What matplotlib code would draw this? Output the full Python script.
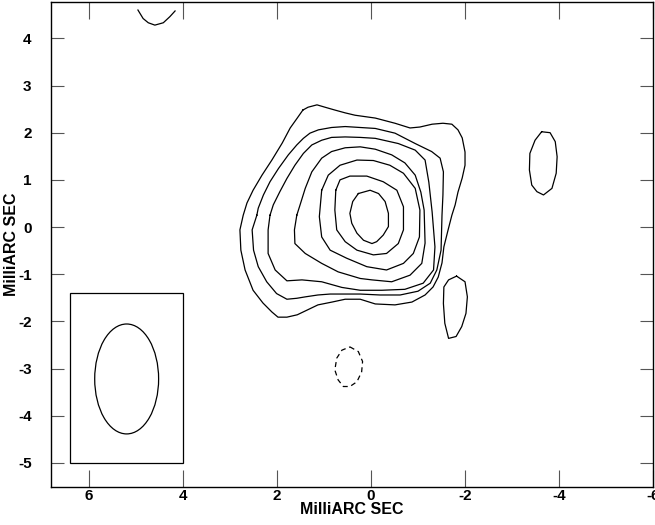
import matplotlib.pyplot as plt
from matplotlib.patches import Ellipse, Rectangle

plt.rcParams['font.family'] = ['Liberation Sans', 'DejaVu Sans']
plt.rcParams['axes.unicode_minus'] = False

#%%
# Contour outlines traced from the map, in MilliARC SEC (x = RA offset, y = Dec offset)
contour_1 = [(1.45, 2.48), (1.34, 2.54), (1.15, 2.59), (0.98, 2.54), (0.77, 2.48), (0.55, 2.42),
             (0.34, 2.37), (-0.09, 2.31), (-0.51, 2.20), (-0.83, 2.10), (-1.04, 2.12), (-1.30, 2.18),
             (-1.53, 2.20), (-1.72, 2.18), (-1.85, 2.06), (-1.94, 1.89), (-2.00, 1.59), (-2.00, 1.31),
             (-1.94, 1.04), (-1.85, 0.74), (-1.79, 0.47), (-1.72, 0.25), (-1.64, -0.06), (-1.55, -0.42),
             (-1.51, -0.76), (-1.43, -1.06), (-1.32, -1.27), (-1.15, -1.44), (-0.87, -1.59), (-0.51, -1.65),
             (-0.09, -1.63), (0.23, -1.53), (0.55, -1.53), (0.83, -1.59), (1.13, -1.65), (1.36, -1.76),
             (1.57, -1.86), (1.79, -1.91), (1.98, -1.91), (2.11, -1.80), (2.30, -1.61), (2.51, -1.34),
             (2.68, -0.91), (2.77, -0.49), (2.79, -0.06), (2.72, 0.25), (2.64, 0.51), (2.51, 0.78),
             (2.32, 1.10), (2.11, 1.42), (1.89, 1.78), (1.72, 2.10), (1.57, 2.31)]

contour_2 = [(2.43, 0.25), (2.40, 0.40), (2.29, 0.68), (2.15, 0.96), (1.97, 1.24), (1.76, 1.53),
             (1.58, 1.74), (1.44, 1.88), (1.30, 1.99), (1.12, 2.06), (0.84, 2.11), (0.55, 2.13),
             (0.23, 2.11), (-0.09, 2.09), (-0.51, 1.99), (-0.94, 1.77), (-1.29, 1.60), (-1.47, 1.46),
             (-1.54, 1.17), (-1.53, 0.68), (-1.51, 0.25), (-1.49, -0.49), (-1.40, -0.91), (-1.26, -1.19),
             (-1.00, -1.36), (-0.62, -1.44), (-0.19, -1.44), (0.23, -1.42), (0.55, -1.42), (0.87, -1.42),
             (1.13, -1.44), (1.40, -1.48), (1.58, -1.51), (1.79, -1.53), (2.01, -1.41), (2.22, -1.16),
             (2.40, -0.84), (2.50, -0.49), (2.53, -0.06)]

contour_3 = [(2.15, 0.25), (2.08, 0.47), (1.94, 0.75), (1.79, 1.03), (1.62, 1.31), (1.44, 1.56),
             (1.26, 1.74), (1.05, 1.84), (0.84, 1.90), (0.55, 1.91), (0.23, 1.90), (-0.09, 1.88),
             (-0.58, 1.77), (-0.94, 1.63), (-1.15, 1.42), (-1.23, 0.95), (-1.30, 0.32), (-1.36, -0.42),
             (-1.33, -0.91), (-1.11, -1.19), (-0.72, -1.32), (-0.23, -1.34), (0.23, -1.34), (0.62, -1.28),
             (1.05, -1.16), (1.47, -1.12), (1.79, -1.14), (2.04, -0.91), (2.19, -0.56), (2.19, -0.06)]

contour_4 = [(1.58, 0.25), (1.51, 0.47), (1.40, 0.82), (1.26, 1.17), (1.05, 1.46), (0.84, 1.60),
             (0.55, 1.68), (0.23, 1.70), (-0.09, 1.65), (-0.44, 1.53), (-0.72, 1.36), (-0.94, 1.10),
             (-1.06, 0.74), (-1.13, 0.36), (-1.15, -0.34), (-1.08, -0.77), (-0.83, -1.02), (-0.44, -1.16),
             (-0.02, -1.12), (0.23, -1.09), (0.70, -0.95), (1.05, -0.77), (1.40, -0.56), (1.62, -0.35),
             (1.63, -0.06)]

contour_5 = [(1.05, 0.78), (0.91, 1.10), (0.66, 1.31), (0.30, 1.42), (-0.05, 1.41), (-0.40, 1.31),
             (-0.69, 1.14), (-0.94, 0.82), (-1.04, 0.36), (-1.03, -0.21), (-0.90, -0.56), (-0.69, -0.77),
             (-0.33, -0.91), (0.09, -0.84), (0.52, -0.66), (0.87, -0.49), (1.05, -0.21), (1.10, 0.22)]

contour_6 = [(0.75, 0.78), (0.66, 1.00), (0.45, 1.08), (0.09, 1.08), (-0.26, 0.96), (-0.55, 0.78),
             (-0.69, 0.43), (-0.69, -0.06), (-0.58, -0.35), (-0.33, -0.56), (-0.05, -0.59), (0.30, -0.49),
             (0.55, -0.31), (0.73, -0.06), (0.77, 0.36)]

contour_7 = [(0.27, 0.71), (0.02, 0.78), (-0.16, 0.71), (-0.30, 0.54), (-0.37, 0.29), (-0.37, 0.01),
             (-0.26, -0.17), (-0.12, -0.31), (-0.02, -0.35), (0.16, -0.28), (0.30, -0.13), (0.41, 0.08),
             (0.45, 0.29), (0.39, 0.54)]

# isolated islands of emission
island_east = [(-3.63, 2.02), (-3.81, 2.00), (-3.92, 1.81), (-3.96, 1.49), (-3.94, 1.14), (-3.85, 0.82),
               (-3.67, 0.68), (-3.53, 0.75), (-3.42, 0.89), (-3.37, 1.21), (-3.38, 1.56), (-3.49, 1.84)]

island_south = [(-1.82, -1.04), (-2.00, -1.16), (-2.05, -1.48), (-2.02, -1.83), (-1.93, -2.11), (-1.81, -2.32),
                (-1.65, -2.36), (-1.57, -2.04), (-1.54, -1.62), (-1.55, -1.27), (-1.65, -1.12)]

island_top = [(4.96, 4.60), (4.85, 4.42), (4.74, 4.33), (4.60, 4.28), (4.42, 4.33), (4.28, 4.46), (4.17, 4.58)]

# negative contour
negative_1 = [(0.45, -2.54), (0.27, -2.64), (0.18, -2.85), (0.20, -3.07), (0.30, -3.28), (0.45, -3.38),
              (0.59, -3.38), (0.70, -3.24), (0.77, -3.03), (0.73, -2.78), (0.62, -2.61)]

# restoring beam and its box
beam_center = (5.2, -3.22)
beam_width = 1.36
beam_height = 2.33
beam_box = (6.4, 4.0, -1.4, -5.0)   # left, right, top, bottom

x_ticks = [6, 4, 2, 0, -2, -4, -6]
y_ticks = [4, 3, 2, 1, 0, -1, -2, -3, -4, -5]


def draw(ax, pts, closed=True, **kw):
    xs = [p[0] for p in pts]
    ys = [p[1] for p in pts]
    if closed:
        xs.append(xs[0])
        ys.append(ys[0])
    ax.plot(xs, ys, color='black', lw=0.9, **kw)


#%%
fig = plt.figure(figsize=(6.55, 5.25), dpi=100)
ax = fig.add_axes([51 / 655, 38 / 525, 602 / 655, 485 / 525])

for c in [contour_1, contour_2, contour_3, contour_4, contour_5, contour_6, contour_7,
          island_east, island_south]:
    draw(ax, c)
draw(ax, island_top, closed=False)
draw(ax, negative_1, linestyle=(0, (4, 3)))

# beam
bl, br, bt, bb = beam_box
ax.add_patch(Rectangle((br, bb), bl - br, bt - bb, fill=False, ec='black', lw=0.9))
ax.add_patch(Ellipse(beam_center, beam_width, beam_height, fill=False, ec='black', lw=0.9))

ax.set_xlim(6.81, -6.0)
ax.set_ylim(-5.51, 4.77)
ax.set_xticks(x_ticks)
ax.set_yticks(y_ticks)
ax.tick_params(axis='x', direction='in', length=12, width=0.8, color='#555555',
               top=True, bottom=True, pad=1.5, labelsize=11)
ax.tick_params(axis='y', direction='in', length=9.5, width=0.8, color='#555555',
               left=True, right=True, pad=14, labelsize=11)
for lab in ax.get_xticklabels() + ax.get_yticklabels():
    lab.set_fontweight('bold')
for s in ax.spines.values():
    s.set_linewidth(1.0)

ax.set_xlabel('MilliARC SEC', fontsize=11.5, fontweight='bold', labelpad=-1)
ax.set_ylabel('MilliARC SEC', fontsize=11.5, fontweight='bold', labelpad=-1)

fig.savefig('out.png', dpi=100)
